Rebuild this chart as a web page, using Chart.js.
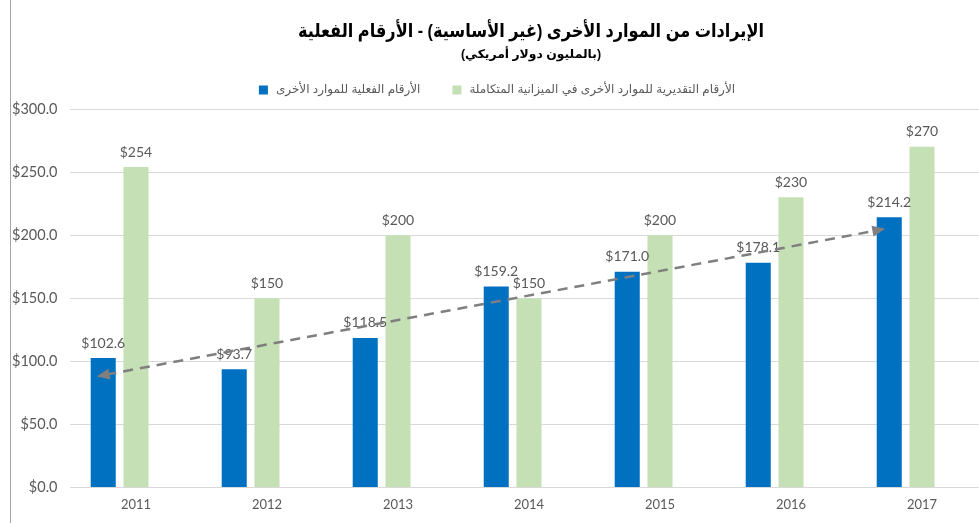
<!DOCTYPE html>
<html>
<head>
<meta charset="utf-8">
<script src="https://cdn.jsdelivr.net/npm/chart.js@4.4.0/dist/chart.umd.min.js"></script>
<style>
    html, body { margin: 0; padding: 0; background: #fff; }
    #wrap { position: relative; width: 979px; height: 523px; overflow: hidden; }
    #wrap:before { content: ''; position: absolute; left: 10px; top: 0; bottom: 0; border-left: 1px solid #a6a6a6; z-index: 1; }
</style>
</head>
<body>
<div id="wrap"><canvas id="chart" width="990" height="523"></canvas></div>
<script>
// Chart data
const years = ['2011', '2012', '2013', '2014', '2015', '2016', '2017'];
const actualValues = [102.6, 93.7, 118.5, 159.2, 171.0, 178.1, 214.2];
const budgetValues = [254, 150, 200, 150, 200, 230, 270];
const emptyValues = [null, null, null, null, null, null, null];
const actualLabel = 'الأرقام الفعلية للموارد الأخرى';
const budgetLabel = 'الأرقام التقديرية للموارد الأخرى في الميزانية المتكاملة';
const titleText = 'الإيرادات من الموارد الأخرى (غير الأساسية) - الأرقام الفعلية';
const subtitleText = '(بالمليون دولار أمريكي)';
// trend arrow ends: [category index, value]
const trendStart = [-0.3, 88];
const trendEnd = [5.72, 205];

const grey = '#595959';
const arabicFont = 'Arial, "DejaVu Sans", sans-serif';

// Title, subtitle and legend drawn by hand (Excel-like spacing)
const header = {
    id: 'header',
    afterDraw(chart) {
        const ctx = chart.ctx;
        ctx.save();
        ctx.fillStyle = '#000';
        ctx.textAlign = 'center';
        ctx.textBaseline = 'middle';

        // title squeezed to the reference width
        ctx.font = 'bold 19px ' + arabicFont;
        let w = ctx.measureText(titleText).width;
        ctx.save();
        ctx.translate(531, 32);
        ctx.scale(466 / w, 1);
        ctx.fillText(titleText, 0, 0);
        ctx.restore();

        ctx.font = 'bold 12px ' + arabicFont;
        w = ctx.measureText(subtitleText).width;
        ctx.save();
        ctx.translate(531, 55);
        ctx.scale(140 / w, 1);
        ctx.fillText(subtitleText, 0, 0);
        ctx.restore();

        // legend
        ctx.font = '12px ' + arabicFont;
        const items = chart.data.datasets.filter(ds => ds.label);
        const box = 9, gapText = 8, gapItem = 32;
        const widths = items.map(ds => ctx.measureText(ds.label).width);
        let total = widths.reduce((a, b) => a + b, 0) + items.length * (box + gapText) + (items.length - 1) * gapItem;
        let x = 497 - total / 2;
        const y = 90;
        ctx.textAlign = 'left';
        items.forEach((ds, i) => {
            ctx.fillStyle = ds.backgroundColor;
            ctx.fillRect(x, y - box / 2, box, box);
            x += box + gapText;
            ctx.fillStyle = grey;
            ctx.fillText(ds.label, x, y);
            x += widths[i] + gapItem;
        });
        ctx.restore();
    }
};

// Value labels above every bar
const barLabels = {
    id: 'barLabels',
    afterDatasetsDraw(chart) {
        const ctx = chart.ctx;
        ctx.save();
        ctx.font = '14px Lato, "DejaVu Sans", sans-serif';
        ctx.fillStyle = grey;
        ctx.textAlign = 'center';
        ctx.textBaseline = 'bottom';
        [0, 1].forEach(i => {
            const ds = chart.data.datasets[i];
            const meta = chart.getDatasetMeta(i);
            meta.data.forEach((bar, j) => {
                const v = ds.data[j];
                const txt = '$' + (i === 0 ? v.toFixed(1) : v.toFixed(0));
                ctx.fillText(txt, bar.x, bar.y - 8);
            });
        });
        ctx.restore();
    }
};

// Dashed trend arrow
function arrowHead(ctx, x, y, ang) {
    const len = 13, w = 5.5;
    ctx.beginPath();
    ctx.moveTo(x, y);
    ctx.lineTo(x - len * Math.cos(ang) + w * Math.sin(ang), y - len * Math.sin(ang) - w * Math.cos(ang));
    ctx.lineTo(x - len * Math.cos(ang) - w * Math.sin(ang), y - len * Math.sin(ang) + w * Math.cos(ang));
    ctx.closePath();
    ctx.fill();
}

const trendArrow = {
    id: 'trendArrow',
    afterDatasetsDraw(chart) {
        const xs = chart.scales.x, ys = chart.scales.y;
        const x1 = xs.getPixelForValue(trendStart[0]), y1 = ys.getPixelForValue(trendStart[1]);
        const x2 = xs.getPixelForValue(trendEnd[0]), y2 = ys.getPixelForValue(trendEnd[1]);
        const ang = Math.atan2(y2 - y1, x2 - x1);
        const ctx = chart.ctx;
        ctx.save();
        ctx.strokeStyle = '#7f7f7f';
        ctx.fillStyle = '#7f7f7f';
        ctx.lineWidth = 2.5;
        ctx.setLineDash([10, 7]);
        ctx.beginPath();
        ctx.moveTo(x1 + 10 * Math.cos(ang), y1 + 10 * Math.sin(ang));
        ctx.lineTo(x2 - 10 * Math.cos(ang), y2 - 10 * Math.sin(ang));
        ctx.stroke();
        ctx.setLineDash([]);
        arrowHead(ctx, x2, y2, ang);
        arrowHead(ctx, x1, y1, ang + Math.PI);
        ctx.restore();
    }
};

new Chart(document.getElementById('chart'), {
    type: 'bar',
    data: {
        labels: years,
        datasets: [{
            label: actualLabel,
            data: actualValues,
            backgroundColor: '#0070c0'
        }, {
            label: budgetLabel,
            data: budgetValues,
            backgroundColor: '#c5e0b4'
        }, {
            // empty third series keeps the Excel bar offset
            label: '',
            data: emptyValues,
            backgroundColor: 'rgba(0,0,0,0)'
        }]
    },
    options: {
        responsive: false,
        animation: false,
        layout: { padding: { left: -1, right: 2.5, top: 109, bottom: 8 } },
        datasets: {
            bar: { categoryPercentage: 0.75, barPercentage: 0.765 }
        },
        plugins: {
            legend: { display: false },
            tooltip: { enabled: false }
        },
        scales: {
            x: {
                grid: { display: false },
                border: { color: '#d9d9d9' },
                ticks: { color: grey, font: { family: 'Lato, sans-serif', size: 13 }, padding: 2 }
            },
            y: {
                min: 0,
                max: 300,
                grid: { color: '#d9d9d9', drawTicks: false },
                border: { display: false },
                ticks: {
                    stepSize: 50,
                    padding: 13,
                    color: grey,
                    font: { family: 'Lato, sans-serif', size: 14.5 },
                    callback: v => '$' + v.toFixed(1)
                }
            }
        }
    },
    plugins: [barLabels, trendArrow, header]
});
</script>
</body>
</html>
